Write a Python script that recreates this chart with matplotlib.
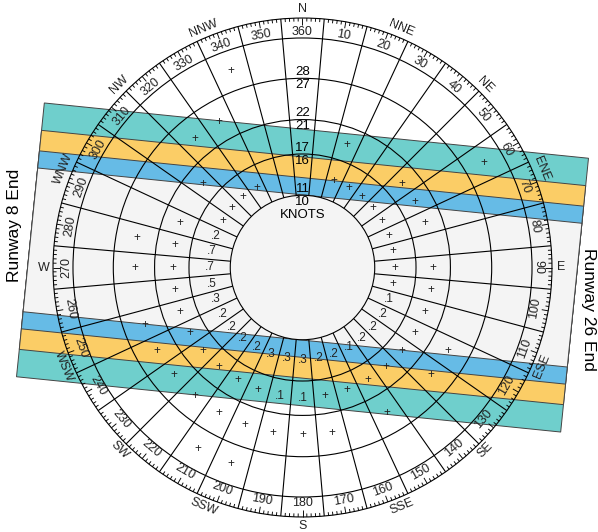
import numpy as np
import matplotlib
matplotlib.use("Agg")
import matplotlib.pyplot as plt
from matplotlib.patches import Polygon, Circle
from matplotlib.collections import LineCollection

plt.rcParams['font.family'] = ['Liberation Sans', 'DejaVu Sans']

# Datos de la rosa de vientos: porcentaje por direccion y banda de velocidad
# 0 = vacio, 0.02 = "+" (menos de 0.05 %)
direcciones = list(range(10, 370, 10))
p = 0.02
banda_11_16 = [0, p, p, p, p, p, p, p, p, p, .1, .2, .2, .2, .1, .2, .2, .3,
               .3, .3, .2, .2, .2, .2, .3, .5, .7, .7, .2, p, p, p, p, 0, 0, 0]
banda_17_21 = [0, p, 0, 0, p, p, p, 0, p, p, p, p, p, p, p, p, p, .1,
               .1, p, p, p, p, p, p, p, p, p, p, 0, p, 0, 0, 0, 0, 0]
banda_22_27 = [0, 0, 0, 0, 0, 0, 0, 0, 0, 0, 0, p, p, 0, p, 0, p, p,
               p, p, p, p, p, p, p, 0, p, p, 0, 0, 0, p, p, 0, 0, 0]
banda_28_mas = [0, 0, 0, 0, 0, p, 0, 0, 0, 0, 0, 0, 0, 0, 0, 0, 0, 0,
                0, p, p, 0, 0, 0, 0, 0, 0, 0, 0, 0, 0, 0, 0, p, 0, 0]

# anillos de velocidad (nudos) y sus etiquetas
anillos = [10.5, 16.5, 21.5, 27.5]
etiquetas_dentro = ['10', '16', '21', '27']
etiquetas_fuera = ['11', '17', '22', '28']

# componentes de viento cruzado de la pista (nudos) y colores
rumbo_pista = 95.8
cruzado = [20, 16, 13, 10.5]
colores = ['#6fcfcc', '#fbcd66', '#66bbe6', '#f4f4f4']

puntos = ['N', 'NNE', 'NE', 'ENE', 'E', 'ESE', 'SE', 'SSE',
          'S', 'SSW', 'SW', 'WSW', 'W', 'WNW', 'NW', 'NNW']

r_grados = 33.36
r_exterior = 36.26
largo_pista = 39.75


def xy(r, ang):
    a = np.radians(ang)
    return r * np.sin(a), r * np.cos(a)


def rot_texto(ang):
    ang = ang % 360
    if 90 < ang < 270:
        return 180 - ang
    return -ang


fig = plt.figure(figsize=(5.98, 5.32), dpi=100)
ax = fig.add_axes([0, 0, 1, 1])
s = 6.88
ax.set_xlim(-302.5 / s, (598 - 302.5) / s)
ax.set_ylim(-(532 - 267.5) / s, 267.5 / s)
ax.set_aspect('equal')
ax.axis('off')

# bandas de la pista
u = np.array(xy(1, rumbo_pista))
n = np.array([-u[1], u[0]])
if n[1] < 0:
    n = -n
for w, c in zip(cruzado, colores):
    esquinas = [largo_pista * u + w * n, largo_pista * u - w * n,
                -largo_pista * u - w * n, -largo_pista * u + w * n]
    ax.add_patch(Polygon(esquinas, closed=True, facecolor=c,
                         edgecolor='#444444', lw=0.7, zorder=1))
ax.text(-41.8, 6.1, 'Runway 8 End', rotation=90,
        ha='center', va='center', fontsize=12.5, zorder=5)
ax.text(41.6, -6.1, 'Runway 26 End', rotation=-90,
        ha='center', va='center', fontsize=12.5, zorder=5)

# circulo interior
ax.add_patch(Circle((0, 0), anillos[0], facecolor='#f4f4f4',
                    edgecolor='black', lw=0.8, zorder=3))
for r in anillos[1:] + [r_grados, r_exterior]:
    ax.add_patch(Circle((0, 0), r, fill=False, edgecolor='black',
                        lw=0.8, zorder=3))

# radios de los sectores
lineas = []
for d in direcciones:
    a = d - 5
    lineas.append([xy(anillos[0], a), xy(r_exterior, a)])
ax.add_collection(LineCollection(lineas, colors='black', lw=0.8, zorder=3))

# marcas de grados
marcas = []
for g in range(360):
    if g % 10 == 5:
        continue
    largo = 0.95 if g % 10 == 0 else 0.5
    marcas.append([xy(r_exterior - largo, g), xy(r_exterior, g)])
ax.add_collection(LineCollection(marcas, colors='black', lw=0.65, zorder=3))

# etiquetas de grados y puntos cardinales
for d in direcciones:
    x, y = xy(34.3, d)
    ax.text(x, y, str(d), rotation=rot_texto(d), ha='center', va='center',
            fontsize=9, color='#222222', zorder=6)
for i, nombre in enumerate(puntos):
    ang = i * 22.5
    x, y = xy(37.6, ang)
    rot = 0 if i % 4 == 0 else rot_texto(ang)
    ax.text(x, y, nombre, rotation=rot, ha='center', va='center',
            fontsize=9, color='#222222', zorder=6)

# etiquetas de los anillos
for r, a, b in zip(anillos, etiquetas_dentro, etiquetas_fuera):
    ax.text(0, r - 0.95, a, ha='center', va='center', fontsize=9.5, zorder=6)
    ax.text(0, r + 0.9, b, ha='center', va='center', fontsize=9.5, zorder=6)
ax.text(0, 7.6, 'KNOTS', ha='center', va='center', fontsize=9.5, zorder=6)

# valores de cada sector
r_texto = [13.4, 18.9, 24.4, 30.4]
bandas = [banda_11_16, banda_17_21, banda_22_27, banda_28_mas]
for rt, valores in zip(r_texto, bandas):
    for d, v in zip(direcciones, valores):
        if v == 0:
            continue
        txt = '+' if v < 0.05 else ('%.1f' % v).lstrip('0')
        x, y = xy(rt, d)
        ax.text(x, y, txt, ha='center', va='center', fontsize=8.5,
                color='#222222', zorder=6)

plt.savefig('out.png', dpi=100)
